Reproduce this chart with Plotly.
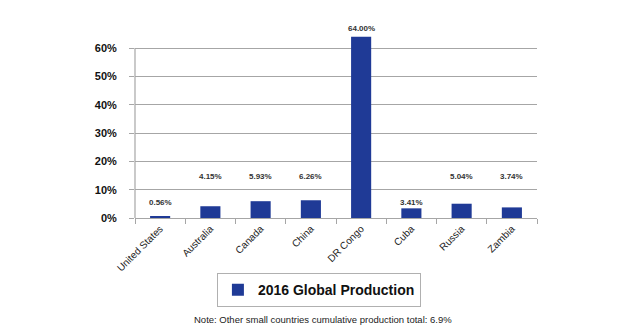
import plotly.graph_objects as go

countries = ["United States", "Australia", "Canada", "China", "DR Congo", "Cuba", "Russia", "Zambia"]
share_pct = [0.56, 4.15, 5.93, 6.26, 64.00, 3.41, 5.04, 3.74]
y_ticks = [0, 10, 20, 30, 40, 50, 60]
series_name = "2016 Global Production"
note_text = "Note: Other small countries cumulative production total: 6.9%"

BAR = "#1f3a96"
GRID = "#a6a6a6"

# where each value label sits (in axis units)
label_height = {"United States": 5.6, "Cuba": 5.6, "DR Congo": None}

fig = go.Figure()
fig.add_trace(go.Bar(
    x=countries, y=share_pct, name=f"<b>{series_name}</b>",
    marker=dict(color=BAR, line=dict(width=0)),
    width=0.4, showlegend=True,
))

for c, v in zip(countries, share_pct):
    if c in label_height and label_height[c] is None:
        yy, shift = v, 8
    else:
        yy, shift = label_height.get(c, 14.5), 0
    fig.add_annotation(x=c, y=yy, yshift=shift, text=f"<b>{v:.2f}%</b>", showarrow=False,
                       font=dict(size=8, color="#333333", family="Liberation Sans"),
                       yanchor="middle", xanchor="center")

# vertical axis line from 0 to the top gridline
fig.add_shape(type="line", xref="paper", yref="y", x0=0, x1=0, y0=0, y1=60,
              line=dict(color=GRID, width=1.2))

fig.add_annotation(xref="paper", yref="paper", x=0.467, y=0, yanchor="middle",
                   yshift=-101, text=note_text, showarrow=False,
                   font=dict(size=9.5, color="#222222", family="Liberation Sans"))

fig.update_layout(
    width=630, height=326,
    margin=dict(l=135, r=93, t=31, b=108),
    paper_bgcolor="white", plot_bgcolor="white",
    bargap=0.6,
    legend=dict(orientation="h", x=0.457, xanchor="center", y=-0.294, yanchor="top",
                yref="paper", font=dict(size=14, color="#111111", family="Liberation Sans"),
                bordercolor="#b0b0b0", borderwidth=1.2, bgcolor="white",
                itemsizing="constant"),
    xaxis=dict(type="category", tickangle=-45, ticks="outside", ticklen=5,
               tickson="boundaries", tickcolor=GRID, showline=True, linecolor=GRID,
               linewidth=1.2, showgrid=False,
               tickfont=dict(size=10, color="#222222", family="Liberation Sans")),
    yaxis=dict(range=[0, 66], tickvals=y_ticks, ticktext=[f"<b>{t}%</b>" for t in y_ticks],
               showgrid=True, gridcolor=GRID, gridwidth=1.2, ticks="outside", ticklen=5,
               tickcolor=GRID, showline=False, zeroline=False, ticklabelstandoff=10,
               tickfont=dict(size=11, color="#111111", family="Liberation Sans")),
)

fig.write_html("out.html")
